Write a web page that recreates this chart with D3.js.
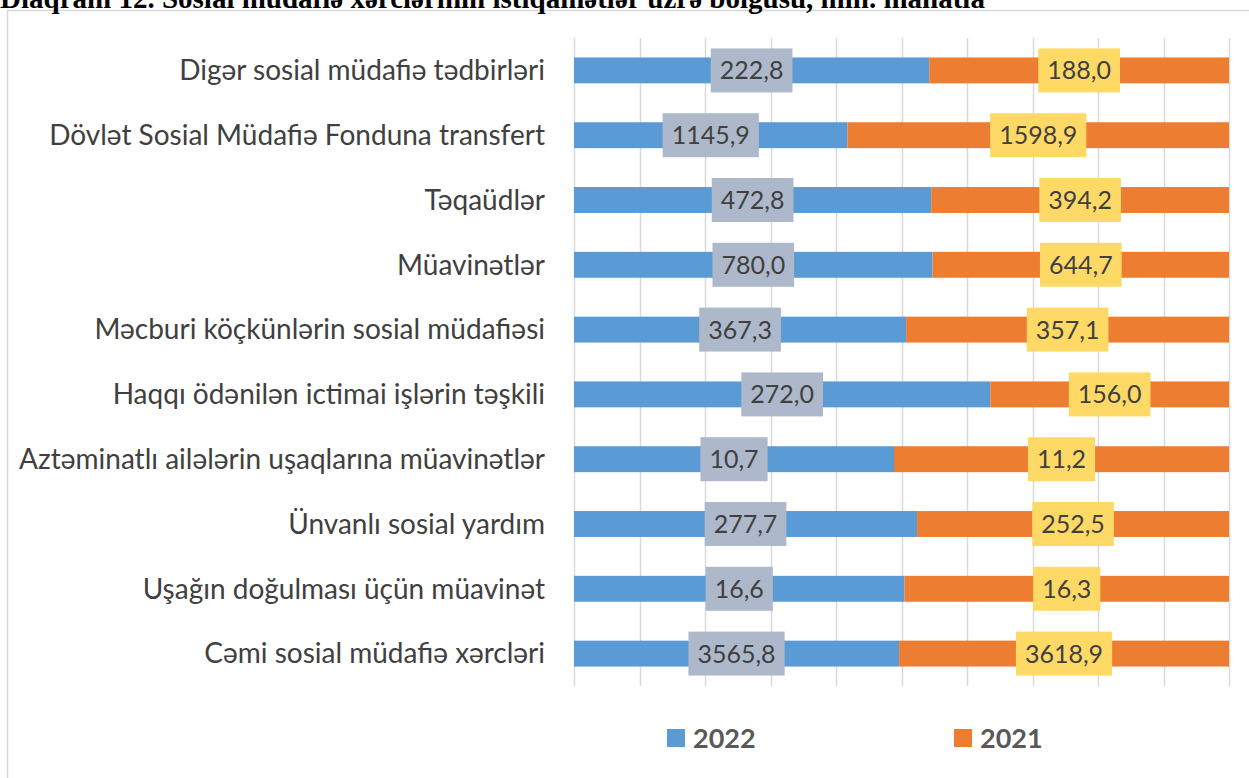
<!DOCTYPE html>
<html>
<head>
<meta charset="utf-8">
<script src="https://cdn.jsdelivr.net/npm/d3@7"></script>
<style>
  body { margin: 0; background: #fff; }
  svg { display: block; }
</style>
</head>
<body>
<div id="chart"></div>
<script>
// data, top row first
var categories = [
  "Digər sosial müdafiə tədbirləri",
  "Dövlət Sosial Müdafiə Fonduna transfert",
  "Təqaüdlər",
  "Müavinətlər",
  "Məcburi köçkünlərin sosial müdafiəsi",
  "Haqqı ödənilən ictimai işlərin təşkili",
  "Aztəminatlı ailələrin uşaqlarına müavinətlər",
  "Ünvanlı sosial yardım",
  "Uşağın doğulması üçün müavinət",
  "Cəmi sosial müdafiə xərcləri"
];
var values2022 = [222.8, 1145.9, 472.8, 780.0, 367.3, 272.0, 10.7, 277.7, 16.6, 3565.8];
var values2021 = [188.0, 1598.9, 394.2, 644.7, 357.1, 156.0, 11.2, 252.5, 16.3, 3618.9];
var seriesNames = ["2022", "2021"];
var titleText = "Diaqram 12. Sosial müdafiə xərclərinin istiqamətlər üzrə bölgüsü, mln. manatla";

var width = 1249, height = 778;
var margin = {top: 38, left: 574, right: 20, bottom: 92};
var color = {"2022": "#5b9bd5", "2021": "#ed7d31"};
var labelFill = {"2022": "#adb9ca", "2021": "#ffd966"};
var font = "Lato, 'Open Sans', sans-serif";

var svg = d3.select("#chart").append("svg")
    .attr("width", width)
    .attr("height", height);

// chart frame (runs off the page at right and bottom)
svg.append("rect")
    .attr("x", 7.5)
    .attr("y", 10.5)
    .attr("width", width)
    .attr("height", height)
    .attr("fill", "none")
    .attr("stroke", "#d9d9d9")
    .attr("stroke-width", 1.5);

// title, only its lower part shows at the top edge (as in the source)
svg.append("text")
    .attr("x", 0)
    .attr("y", 8)
    .attr("font-family", "'Liberation Serif', 'DejaVu Serif', serif")
    .attr("font-weight", "bold")
    .attr("font-size", "29px")
    .attr("fill", "#000")
    .text(titleText);

var rows = categories.map(function (c, i) {
  var total = values2022[i] + values2021[i];
  return {name: c, a: values2022[i], b: values2021[i], pa: values2022[i] / total, pb: values2021[i] / total};
});

var x = d3.scaleLinear().domain([0, 1]).range([margin.left, 1229]);
var y = d3.scaleBand().domain(categories).range([margin.top, 686]).paddingInner(0.6).paddingOuter(0.3);

// vertical grid
svg.append("g").selectAll("line")
    .data(d3.range(0, 1.0001, 0.1))
  .enter().append("line")
    .attr("x1", function (d) { return Math.round(x(d)) + 0.5; })
    .attr("x2", function (d) { return Math.round(x(d)) + 0.5; })
    .attr("y1", margin.top)
    .attr("y2", 686)
    .attr("stroke", "#d9d9d9")
    .attr("stroke-width", 1.5);

// category labels
svg.append("g").selectAll("text")
    .data(rows)
  .enter().append("text")
    .attr("x", 545)
    .attr("y", function (d) { return y(d.name) + y.bandwidth() / 2; })
    .attr("dy", "0.35em")
    .attr("text-anchor", "end")
    .attr("font-family", font)
    .attr("font-size", "28px")
    .attr("fill", "#404040")
    .text(function (d) { return d.name; });

var fmt = function (v) { return d3.format(".1f")(v).replace(".", ","); };

var segs = [];
rows.forEach(function (d) {
  segs.push({row: d.name, key: "2022", x0: 0, x1: d.pa, v: d.a});
  segs.push({row: d.name, key: "2021", x0: d.pa, x1: 1, v: d.b});
});

// bars
svg.append("g").selectAll("rect")
    .data(segs)
  .enter().append("rect")
    .attr("x", function (d) { return x(d.x0); })
    .attr("y", function (d) { return y(d.row); })
    .attr("width", function (d) { return x(d.x1) - x(d.x0); })
    .attr("height", y.bandwidth())
    .attr("fill", function (d) { return color[d.key]; });

// value labels with boxes
var lab = svg.append("g").selectAll("g")
    .data(segs)
  .enter().append("g")
    .attr("transform", function (d) {
      return "translate(" + (x(d.x0) + x(d.x1)) / 2 + "," + (y(d.row) + y.bandwidth() / 2) + ")";
    });
lab.append("rect")
    .attr("fill", function (d) { return labelFill[d.key]; });
lab.append("text")
    .attr("text-anchor", "middle")
    .attr("dy", "0.36em")
    .attr("font-family", font)
    .attr("font-size", "25px")
    .attr("fill", "#404040")
    .text(function (d) { return fmt(d.v); });
lab.each(function () {
  var g = d3.select(this);
  var tw = g.select("text").node().getComputedTextLength();
  g.select("rect")
      .attr("x", -tw / 2 - 9)
      .attr("y", -22)
      .attr("width", tw + 18)
      .attr("height", 44);
});

// legend
var legend = svg.append("g").selectAll("g")
    .data(seriesNames)
  .enter().append("g")
    .attr("transform", function (d, i) { return "translate(" + (667 + i * 287) + ",729)"; });
legend.append("rect")
    .attr("width", 18)
    .attr("height", 18)
    .attr("fill", function (d) { return color[d]; });
legend.append("text")
    .attr("x", 26)
    .attr("y", 9)
    .attr("dy", "0.36em")
    .attr("font-family", font)
    .attr("font-weight", "bold")
    .attr("font-size", "27px")
    .attr("fill", "#595959")
    .text(function (d) { return d; });
</script>
</body>
</html>
